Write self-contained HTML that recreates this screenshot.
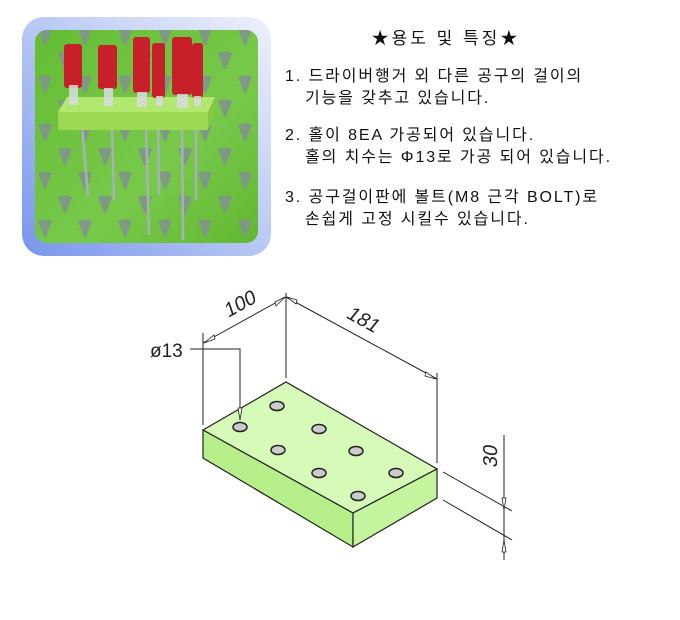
<!DOCTYPE html>
<html><head><meta charset="utf-8"><style>
html,body{margin:0;padding:0;background:#fff;width:680px;height:620px;overflow:hidden}
svg{display:block}
.k{font-family:"Liberation Sans","Noto Sans CJK KR",sans-serif;font-size:16px;fill:#111;letter-spacing:1.9px}
.d{font-family:"Liberation Sans",sans-serif;font-size:20px;fill:#222}
</style></head><body>
<svg width="680" height="620" viewBox="0 0 680 620" xmlns="http://www.w3.org/2000/svg">
<defs>
<linearGradient id="fr" x1="1" y1="0" x2="0" y2="1">
<stop offset="0" stop-color="#eef1fb"/><stop offset="0.5" stop-color="#b8c8f4"/><stop offset="1" stop-color="#7895ea"/>
</linearGradient>
<linearGradient id="gr" x1="0" y1="0" x2="1" y2="1">
<stop offset="0" stop-color="#64bd34"/><stop offset="0.6" stop-color="#78c94a"/><stop offset="1" stop-color="#62b832"/>
</linearGradient>
<pattern id="holes" x="30" y="25" width="40" height="48" patternUnits="userSpaceOnUse">
<path d="M8 4 Q15 1 22 4 L16 20 L14 20 Z" fill="#7f958a"/>
<path d="M28 28 Q35 25 42 28 L36 44 L34 44 Z" fill="#7f958a"/>
<path d="M-12 28 Q-5 25 2 28 L-4 44 L-6 44 Z" fill="#7f958a"/>
</pattern>
</defs>
<rect x="22" y="17" width="249" height="239" rx="22" fill="url(#fr)"/>
<rect x="35" y="30" width="223" height="213" rx="12" fill="url(#gr)"/>
<rect x="35" y="30" width="223" height="213" rx="12" fill="url(#holes)" opacity="0.9"/>
<g stroke="#aab0b8" stroke-width="2.5">
<line x1="82" y1="125" x2="88" y2="197"/><line x1="112" y1="125" x2="114" y2="200"/>
<line x1="146" y1="125" x2="149" y2="235"/><line x1="158" y1="125" x2="159" y2="195"/>
<line x1="182" y1="125" x2="183" y2="240"/><line x1="196" y1="125" x2="196" y2="200"/>
</g>
<polygon points="67,97 215,97 208,112 58,112" fill="#b2e870"/>
<rect x="58" y="112" width="150" height="18" fill="#9cda54"/>
<polygon points="208,112 215,97 215,115 208,130" fill="#86c844"/>
<g fill="#c8202a">
<rect x="64" y="44" width="18" height="44" rx="3"/>
<rect x="98" y="45" width="19" height="44" rx="3"/>
<rect x="133" y="37" width="17" height="56" rx="3"/>
<rect x="152" y="43" width="13" height="55" rx="3"/>
<rect x="172" y="37" width="20" height="58" rx="3"/>
<rect x="192" y="43" width="11" height="55" rx="3"/>
</g>
<g fill="#d8dce0" opacity="0.85">
<rect x="69" y="85" width="9" height="20"/><rect x="104" y="88" width="9" height="18"/>
<rect x="137" y="92" width="10" height="15"/><rect x="156" y="96" width="7" height="10"/>
<rect x="177" y="94" width="11" height="14"/><rect x="194" y="96" width="7" height="10"/>
</g>
<text class="k" x="446" y="44" text-anchor="middle" style="font-size:17px;letter-spacing:3px">★용도 및 특징★</text>
<text class="k" x="285" y="81">1. 드라이버행거 외 다른 공구의 걸이의</text>
<text class="k" x="305" y="103">기능을 갖추고 있습니다.</text>
<text class="k" x="285" y="140">2. 홀이 8EA 가공되어 있습니다.</text>
<text class="k" x="305" y="162">홀의 치수는 Φ13로 가공 되어 있습니다.</text>
<text class="k" x="285" y="202">3. 공구걸이판에 볼트(M8 근각 BOLT)로</text>
<text class="k" x="305" y="224">손쉽게 고정 시킬수 있습니다.</text>
<polygon points="203,430 286,382 437,469 353,513" fill="#d6fbb8" stroke="#222" stroke-width="1.2"/>
<polygon points="203,430 353,513 353,547 203,458" fill="#b6ef8a" stroke="#222" stroke-width="1.2"/>
<polygon points="353,513 437,469 437,498 353,547" fill="#c4f49e" stroke="#222" stroke-width="1.2"/>
<g fill="#ccc" stroke="#222" stroke-width="1.5">
<ellipse cx="277" cy="406" rx="7" ry="4.5"/><ellipse cx="319" cy="429" rx="7" ry="4.5"/>
<ellipse cx="240" cy="427" rx="7" ry="4.5"/><ellipse cx="278" cy="450" rx="7" ry="4.5"/>
<ellipse cx="356" cy="451" rx="7" ry="4.5"/><ellipse cx="319" cy="473" rx="7" ry="4.5"/>
<ellipse cx="396" cy="473" rx="7" ry="4.5"/><ellipse cx="358" cy="496" rx="7" ry="4.5"/>
</g>
<g stroke="#222" stroke-width="1" fill="none">
<line x1="203" y1="333" x2="203" y2="425"/>
<line x1="286" y1="293" x2="286" y2="378"/>
<line x1="437" y1="373" x2="437" y2="463"/>
<line x1="203" y1="343" x2="286" y2="297"/>
<line x1="286" y1="297" x2="437" y2="379"/>
<polyline points="190,349 240,349 240,420"/>
<line x1="443" y1="472" x2="512" y2="511"/>
<line x1="443" y1="500" x2="512" y2="540"/>
<line x1="504" y1="435" x2="504" y2="560"/>
</g>
<g fill="#fff" stroke="#222" stroke-width="0.8">
<polygon points="204,343 214,335 215,339"/>
<polygon points="285,297 275,302 276,306"/>
<polygon points="287,297 297,300 296,304"/>
<polygon points="436,379 426,372 425,376"/>
<polygon points="240,420 238,408 242,408"/>
<polygon points="504,510 502,498 506,498"/>
<polygon points="504,540 502,552 506,552"/>
</g>
<text class="d" x="0" y="0" transform="translate(228,318) rotate(-29) skewX(-10)">100</text>
<text class="d" x="0" y="0" transform="translate(345,317) rotate(29) skewX(-10)">181</text>
<text class="d" x="150" y="357" style="font-size:19px">ø13</text>
<text class="d" x="0" y="0" transform="translate(497,468) rotate(-90) skewX(-10)">30</text>
</svg>
</body></html>
